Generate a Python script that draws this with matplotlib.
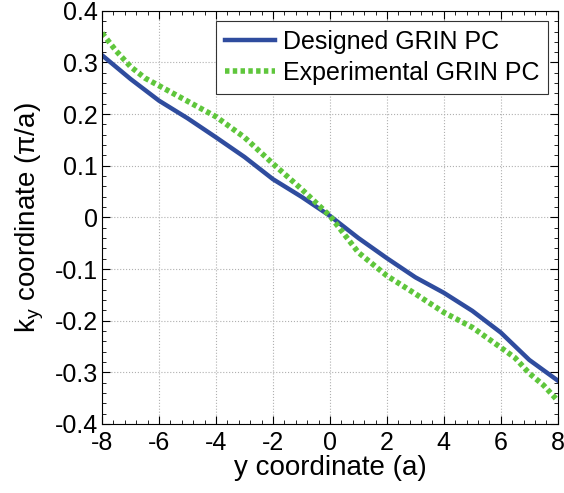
import numpy as np
import matplotlib
matplotlib.use('Agg')
import matplotlib.pyplot as plt
from matplotlib.ticker import MultipleLocator

plt.rcParams['font.family'] = ['Liberation Sans', 'DejaVu Sans']
plt.rcParams['mathtext.fontset'] = 'custom'
plt.rcParams['mathtext.rm'] = 'Liberation Sans'
plt.rcParams['mathtext.it'] = 'Liberation Sans:italic'
plt.rcParams['axes.unicode_minus'] = False

# data
y_design = [-8, -7, -6, -5, -4, -3, -2, -1, 0, 1, 2, 3, 4, 5, 6, 7, 8]
ky_design = [0.314, 0.268, 0.226, 0.192, 0.155, 0.117, 0.074, 0.040, 0.003,
             -0.040, -0.079, -0.116, -0.146, -0.181, -0.223, -0.276, -0.316]

y_exp = [-8, -7.5, -7, -6.5, -6, -5, -4, -3, -2, -1, 0, 1, 2, 3, 4, 5, 6, 6.5, 7, 7.5, 8]
ky_exp = [0.357, 0.322, 0.292, 0.270, 0.255, 0.225, 0.195, 0.155, 0.104, 0.055, 0.003,
          -0.068, -0.113, -0.148, -0.184, -0.213, -0.252, -0.272, -0.302, -0.325, -0.355]

fig = plt.figure(figsize=(5.64, 4.93), dpi=100)
ax = fig.add_axes([0.181, 0.140, 0.808, 0.838])

ax.plot(y_design, ky_design, color='#2f4c9e', lw=3.2, label='Designed GRIN PC')
ax.plot(y_exp, ky_exp, color='#5fc63c', lw=4, linestyle=(0, (0.8, 0.6)),
        label='Experimental GRIN PC')

ax.set_xlim(-8, 8)
ax.set_ylim(-0.4, 0.4)
ax.set_xticks(np.arange(-8, 9, 2))
ax.set_yticks(np.round(np.arange(-0.4, 0.41, 0.1), 1))
ax.set_yticklabels(['-0.4', '-0.3', '-0.2', '-0.1', '0', '0.1', '0.2', '0.3', '0.4'])
ax.xaxis.set_minor_locator(MultipleLocator(0.4))
ax.yaxis.set_minor_locator(MultipleLocator(0.02))
ax.tick_params(which='both', direction='in', top=True, right=True, labelsize=18)
ax.tick_params(which='major', length=6)
ax.tick_params(which='minor', length=3)
ax.tick_params(axis='x', pad=5)
ax.tick_params(axis='y', pad=3)
ax.grid(True, which='major', linestyle=':', color='#b0b0b0', lw=0.8)

ax.set_xlabel('y coordinate (a)', fontsize=20, labelpad=0)
ax.set_ylabel('k$_\\mathregular{y}$ coordinate (\u03c0/a)', fontsize=20, labelpad=6)

leg = ax.legend(loc='upper right', fontsize=18, fancybox=False, framealpha=1,
                edgecolor='#333333', handlelength=2.0, borderaxespad=0.4,
                labelspacing=0.3, handletextpad=0.3, borderpad=0.35)
leg.get_frame().set_linewidth(0.8)

fig.savefig('out.png', dpi=100)
